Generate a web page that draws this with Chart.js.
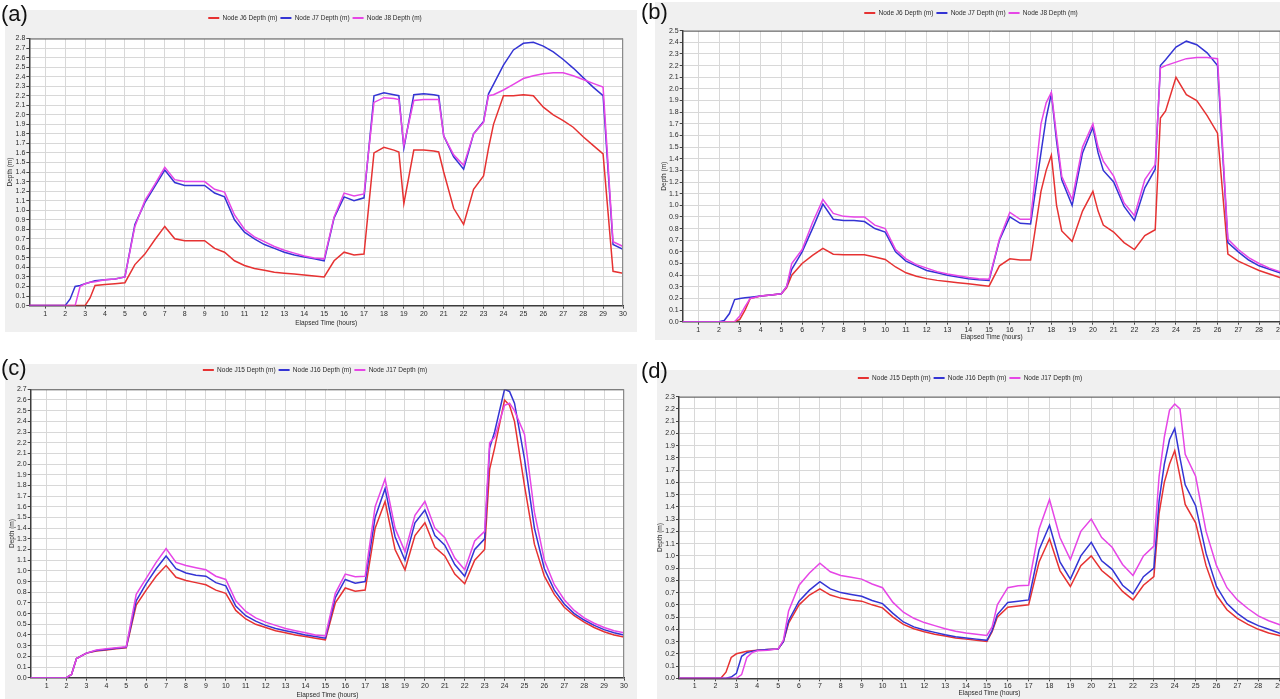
<!DOCTYPE html>
<html>
<head>
<meta charset="utf-8">
<script src="https://cdn.jsdelivr.net/npm/chart.js@4.4.1/dist/chart.umd.min.js"></script>
<style>
html,body{margin:0;padding:0;background:#ffffff;}
body{width:1280px;height:699px;position:relative;overflow:hidden;font-family:"Liberation Sans",Arial,sans-serif;}
.panel{position:absolute;background:#f0f0f0;}
canvas{position:absolute;display:block;}
.tag{position:absolute;font-size:22px;line-height:1;color:#111;font-family:"Liberation Sans",Arial,sans-serif;}
</style>
</head>
<body>
<div class="panel" style="left:5px;top:10px;width:632px;height:322px"></div>
<div class="panel" style="left:655px;top:2px;width:665px;height:338px"></div>
<div class="panel" style="left:5px;top:364px;width:632px;height:335px"></div>
<div class="panel" style="left:657px;top:370px;width:663px;height:329px"></div>
<canvas id="ca" style="left:0px;top:8px"></canvas>
<canvas id="cb" style="left:648px;top:0px"></canvas>
<canvas id="cc" style="left:0px;top:360px"></canvas>
<canvas id="cd" style="left:648px;top:366px"></canvas>
<div class="tag" style="left:1px;top:3px">(a)</div>
<div class="tag" style="left:641px;top:1px">(b)</div>
<div class="tag" style="left:1px;top:357px">(c)</div>
<div class="tag" style="left:641px;top:360px">(d)</div>
<script>
// ---------- data ----------
const xHours = [1,2,3,4,5,6,7,8,9,10,11,12,13,14,15,16,17,18,19,20,21,22,23,24,25,26,27,28,29,30];
const namesAB = ['Node J6 Depth (m)', 'Node J7 Depth (m)', 'Node J8 Depth (m)'];
const namesCD = ['Node J15 Depth (m)', 'Node J16 Depth (m)', 'Node J17 Depth (m)'];
const yTops = [2.8, 2.5, 2.7, 2.3];

// panel (a)
const hoursA = [0,2,2.25,2.5,2.75,3,3.25,3.5,4,4.5,5,5.5,6,6.5,7,7.5,8,8.5,9,9.5,10,10.5,11,11.5,12,12.5,13,13.5,14,14.5,15,15.5,16,16.5,17,17.5,18,18.5,18.75,19,19.5,20,20.5,20.75,21,21.5,22,22.5,23,23.25,23.5,24,24.5,25,25.5,26,26.5,27,27.5,28,28.5,29,29.5,30];
const j6A = [0,0,0,0,0,0,0.08,0.21, 0.22,0.23,0.24,0.43,0.54,0.69,0.83,0.70,0.68,0.68,0.68,0.60,0.56,0.47,0.42,0.39,0.37,0.35,0.34,0.33,0.32,0.31,0.30,0.47,0.56,0.53,0.54, 1.60,1.66,1.63,1.61,1.07,1.63,1.63,1.62,1.61,1.40,1.02,0.85,1.22,1.36,1.65,1.90, 2.20,2.20,2.21,2.20,2.08,2.00,1.94,1.87,1.77,1.68,1.59,0.36,0.34];
const j7A = [0,0,0.07,0.20,0.21,0.23,0.245,0.26, 0.27,0.28,0.30,0.85,1.08,1.25,1.42,1.29,1.26,1.26,1.26,1.18,1.14,0.90,0.77,0.70,0.64,0.60,0.56,0.53,0.51,0.49,0.47,0.92,1.14,1.10,1.13, 2.20,2.23,2.21,2.20,1.65,2.21,2.22,2.21,2.20,1.78,1.56,1.43,1.80,1.93,2.22,2.32, 2.52,2.68,2.75,2.76,2.72,2.66,2.58,2.49,2.39,2.29,2.20,0.64,0.59];
const j8A = [0,0,0,0,0.20,0.23,0.245,0.25, 0.27,0.28,0.30,0.83,1.10,1.27,1.45,1.32,1.30,1.30,1.30,1.22,1.19,0.95,0.80,0.72,0.67,0.62,0.58,0.55,0.52,0.50,0.49,0.93,1.18,1.15,1.17, 2.13,2.18,2.17,2.16,1.68,2.15,2.16,2.16,2.16,1.78,1.58,1.47,1.80,1.92,2.20,2.21, 2.26,2.32,2.38,2.41,2.43,2.44,2.44,2.41,2.37,2.33,2.29,0.67,0.62];

// panel (b)
const hoursB = [0,2,2.25,2.5,2.75,3,3.25,3.5,4,4.5,5,5.25,5.5,6,6.5,7,7.5,8,8.5,9,9.5,10,10.5,11,11.5,12,12.5,13,13.5,14,14.5,15,15.5,16,16.5,17,17.5,17.75,18,18.25,18.5,19,19.5,20,20.25,20.5,21,21.5,22,22.5,23,23.25,23.5,24,24.5,25,25.5,26,26.5,27,27.5,28,28.5,29,29.5,30];
const j6B = [0,0,0,0,0,0.02,0.10,0.20, 0.22,0.23,0.24,0.29,0.40, 0.50,0.57,0.63,0.58,0.575,0.575,0.575,0.555,0.535,0.47,0.42,0.39,0.37,0.355,0.345,0.335,0.325,0.315,0.305,0.48,0.54,0.53,0.53, 1.12,1.30,1.43,1.00,0.78, 0.69,0.95,1.12,0.95,0.83, 0.77,0.68,0.62,0.74,0.79,1.75,1.81, 2.10,1.95,1.90,1.77,1.62,0.58,0.52,0.48,0.44,0.41,0.38,0.36,0.34];
const j7B = [0,0,0.01,0.07,0.19,0.20,0.205,0.21, 0.22,0.23,0.24,0.30,0.45, 0.60,0.80,1.01,0.88,0.87,0.87,0.86,0.80,0.77,0.60,0.52,0.48,0.44,0.42,0.40,0.385,0.37,0.36,0.355,0.70,0.90,0.845,0.84, 1.45,1.75,1.96,1.55,1.22, 1.00,1.45,1.67,1.45,1.30, 1.20,0.99,0.87,1.15,1.31,2.20,2.25, 2.36,2.41,2.38,2.31,2.20,0.68,0.60,0.53,0.48,0.45,0.42,0.40,0.38];
const j8B = [0,0,0,0,0,0.05,0.13,0.20, 0.22,0.23,0.24,0.30,0.50, 0.62,0.85,1.05,0.93,0.905,0.90,0.90,0.83,0.80,0.62,0.54,0.49,0.46,0.43,0.41,0.395,0.38,0.37,0.365,0.71,0.94,0.88,0.88, 1.70,1.88,1.97,1.60,1.25, 1.05,1.50,1.70,1.50,1.38, 1.25,1.02,0.91,1.22,1.35,2.18,2.20, 2.23,2.26,2.27,2.27,2.26,0.71,0.62,0.55,0.50,0.46,0.43,0.41,0.39];

// panel (c)
const hoursC = [0,2,2.25,2.5,3,3.5,4,4.5,5,5.5,6,6.5,7,7.5,8,8.5,9,9.5,10,10.5,11,11.5,12,12.5,13,13.5,14,14.5,15,15.5,16,16.5,17,17.5,18,18.5,19,19.5,20,20.5,21,21.5,22,22.5,23,23.25,23.5,24,24.25,24.5,25,25.5,26,26.5,27,27.5,28,28.5,29,29.5,30];
const j15C = [0,0,0.03,0.18, 0.23,0.25,0.26,0.27,0.28,0.68,0.82,0.95,1.05,0.94, 0.91,0.89,0.87,0.82,0.79,0.63,0.55,0.50,0.47,0.44, 0.42,0.40,0.385,0.37,0.355,0.70,0.84,0.81,0.82,1.40, 1.65,1.20,1.01,1.33,1.45,1.22,1.14,0.97,0.88,1.10, 1.20, 1.95,2.15, 2.60,2.55,2.40, 1.80,1.25,0.95,0.78,0.66,0.58,0.52,0.47,0.43,0.40,0.38];
const j16C = [0,0,0.03,0.18, 0.23,0.255,0.265,0.275,0.285,0.72,0.88,1.02,1.14,1.02, 0.98,0.96,0.95,0.89,0.86,0.67,0.58,0.53,0.49,0.46, 0.44,0.42,0.40,0.385,0.37,0.75,0.92,0.885,0.90,1.50, 1.77,1.32,1.10,1.45,1.57,1.33,1.24,1.06,0.95,1.20, 1.30, 2.15,2.30, 2.70,2.68,2.57, 2.05,1.40,1.02,0.82,0.69,0.60,0.54,0.49,0.45,0.42,0.40];
const j17C = [0,0,0.03,0.18, 0.23,0.26,0.27,0.28,0.29,0.78,0.93,1.08,1.21,1.08, 1.05,1.03,1.01,0.95,0.92,0.72,0.62,0.56,0.52,0.49, 0.46,0.44,0.42,0.40,0.39,0.79,0.97,0.945,0.95,1.60, 1.86,1.40,1.18,1.52,1.65,1.40,1.31,1.12,1.01,1.28, 1.37, 2.20,2.25, 2.55,2.57,2.50, 2.28,1.55,1.10,0.87,0.73,0.63,0.56,0.51,0.47,0.44,0.42];

// panel (d)
const hoursD = [0,2,2.25,2.5,2.75,3,3.25,3.5,3.75,4,4.5,5,5.25,5.5,6,6.5,7,7.5,8,8.5,9,9.5,10,10.5,11,11.5,12,12.5,13,13.5,14,14.5,15,15.25,15.5,16,16.5,17,17.5,18,18.5,19,19.5,20,20.5,21,21.5,22,22.5,23,23.25,23.5,23.75,24,24.25,24.5,25,25.5,26,26.5,27,27.5,28,28.5,29,29.5,30];
const j15D = [0,0,0,0.05,0.17,0.20,0.21,0.22,0.225,0.23,0.235,0.24,0.30,0.45, 0.60,0.68,0.73,0.68,0.655,0.64,0.63,0.60,0.575,0.50,0.44,0.405,0.38,0.36,0.345,0.33,0.32,0.31,0.30, 0.38, 0.50,0.58,0.59,0.60,0.95,1.14,0.88,0.75,0.92,1.00,0.88,0.81,0.71,0.64,0.76,0.83, 1.35,1.60,1.75, 1.86,1.65,1.42, 1.27,0.92,0.68,0.56,0.49,0.44,0.40,0.37,0.35,0.33,0.32];
const j16D = [0,0,0,0,0.01,0.04,0.18,0.21,0.22,0.23,0.235,0.24,0.30,0.47, 0.63,0.72,0.79,0.73,0.70,0.685,0.67,0.635,0.61,0.53,0.46,0.42,0.395,0.375,0.355,0.34,0.33,0.32,0.31, 0.39, 0.52,0.62,0.63,0.64,1.05,1.25,0.95,0.81,1.00,1.11,0.96,0.89,0.76,0.69,0.83,0.90, 1.45,1.75,1.95, 2.04,1.80,1.58, 1.41,1.02,0.75,0.61,0.53,0.47,0.43,0.40,0.37,0.35,0.34];
const j17D = [0,0,0,0,0,0,0.03,0.17,0.21,0.225,0.23,0.24,0.31,0.55, 0.76,0.86,0.94,0.87,0.84,0.825,0.81,0.77,0.74,0.62,0.54,0.49,0.455,0.43,0.405,0.385,0.37,0.36,0.35, 0.42, 0.60,0.74,0.755,0.76,1.22,1.46,1.15,0.97,1.20,1.30,1.15,1.07,0.93,0.84,1.00,1.08, 1.65,1.97,2.19, 2.24,2.20,1.83, 1.65,1.20,0.92,0.74,0.64,0.57,0.51,0.47,0.44,0.41,0.40];

// ---------- style / layout ----------
const lineColors = ['#e63232', '#3434d4', '#e646e6'];
const FONT = '"Liberation Sans", Arial, Helvetica, sans-serif';
const TXT = '#2a2a2a';
const LEG_FS = 6.5, LEG_PAD = 3;

// canvas rectangles (page px) and target plot boxes (page px)
const panels = [
  {id:'ca', cx:0, cy:8, w:640, h:326, hours:hoursA, series:[j6A,j7A,j8A], names:namesAB, xMin:0.2, yMax:yTops[0],
   box:{left:29.3, right:623, top:38.5, bottom:305.6}, legendY:18, legendX:315, xTitlePad:0},
  {id:'cb', cx:648, cy:0, w:672, h:345, hours:hoursB, series:[j6B,j7B,j8B], names:namesAB, xMin:0.25, yMax:yTops[1],
   box:{left:682.7, right:1300.6, top:30.7, bottom:321.7}, legendY:13, legendX:971, xTitlePad:-2},
  {id:'cc', cx:0, cy:360, w:640, h:339, hours:hoursC, series:[j15C,j16C,j17C], names:namesCD, xMin:0.2, yMax:yTops[2],
   box:{left:30.7, right:624, top:389.3, bottom:677.7}, legendY:370, legendX:315, xTitlePad:0},
  {id:'cd', cx:648, cy:366, w:672, h:333, hours:hoursD, series:[j15D,j16D,j17D], names:namesCD, xMin:0.25, yMax:yTops[3],
   box:{left:679, right:1300, top:396.7, bottom:678.3}, legendY:378, legendX:970, xTitlePad:-2}
];

const frame = {
  id: 'frame',
  afterLayout(c) {
    const L = c.legend;
    if (!L || c.$lcx == null) return;
    const d = c.$lcx - (L.left + L.right) / 2;
    L.left += d; L.right += d;
  },
  beforeDraw(c) {
    const a = c.chartArea, x = c.ctx;
    x.save(); x.fillStyle = '#ffffff';
    x.fillRect(a.left, a.top, a.right - a.left, a.bottom - a.top);
    x.restore();
  },
  afterDraw(c) {
    const a = c.chartArea, x = c.ctx;
    x.save(); x.lineWidth = 1;
    x.strokeStyle = '#5a5a5a';
    x.beginPath(); x.moveTo(a.left, a.top + 0.5); x.lineTo(a.right, a.top + 0.5); x.stroke();
    x.strokeStyle = '#8a8a8a';
    x.beginPath(); x.moveTo(a.right - 0.5, a.top); x.lineTo(a.right - 0.5, a.bottom); x.stroke();
    x.restore();
  }
};

function calibrate(chart, T) {
  const p = chart.options.layout.padding;
  for (let i = 0; i < 6; i++) {
    const a = chart.chartArea;
    const dl = T.left - a.left, dr = a.right - T.right, db = a.bottom - T.bottom, dt = T.top - a.top;
    if (Math.abs(dl) + Math.abs(dr) + Math.abs(db) + Math.abs(dt) < 0.05) break;
    p.left += dl; p.right += dr; p.bottom += db; chart.$lh += dt;
    chart.update('none');
  }
}

function build(P) {
  const cv = document.getElementById(P.id);
  cv.width = P.w; cv.height = P.h;
  cv.style.width = P.w + 'px'; cv.style.height = P.h + 'px';
  const box = {left: P.box.left - P.cx, right: P.box.right - P.cx, top: P.box.top - P.cy, bottom: P.box.bottom - P.cy};
  const datasets = P.series.map((vals, i) => ({
    label: P.names[i],
    data: P.hours.map((t, k) => ({x: t, y: vals[k]})),
    borderColor: lineColors[i],
    backgroundColor: lineColors[i],
    borderWidth: 1.5,
    pointRadius: 0,
    tension: 0,
    fill: false,
    order: 2 - i
  }));
  const padTop = (P.legendY - P.cy) - LEG_PAD - LEG_FS / 2;
  const gridCfg = {color: '#d8d8d8', lineWidth: 1, tickLength: 3, tickColor: '#444'};
  const chart = new Chart(cv, {
    type: 'line',
    data: {datasets},
    options: {
      responsive: false,
      animation: false,
      devicePixelRatio: 1,
      events: [],
      layout: {padding: {top: padTop, left: 6, right: 12, bottom: 0}},
      plugins: {
        tooltip: {enabled: false},
        legend: {
          display: true, position: 'top',
          labels: {
            boxWidth: 11, boxHeight: 2, padding: LEG_PAD, color: TXT,
            font: {size: LEG_FS, family: FONT},
            sort: (a, b) => a.datasetIndex - b.datasetIndex,
            generateLabels: (c) => Chart.defaults.plugins.legend.labels.generateLabels(c)
              .map(l => Object.assign(l, {lineWidth: 0}))
          }
        }
      },
      scales: {
        x: {
          type: 'linear', min: P.xMin, max: 30,
          afterBuildTicks: (s) => { s.ticks = xHours.map(v => ({value: v})); },
          ticks: {autoSkip: false, maxRotation: 0, color: TXT, padding: 1,
                  font: {size: 7, family: FONT}, callback: (v) => String(v)},
          grid: gridCfg,
          border: {color: '#3c3c3c', width: 1.5},
          title: {display: true, text: 'Elapsed Time (hours)', color: TXT,
                  font: {size: 6.5, family: FONT}, padding: {top: P.xTitlePad, bottom: 1}}
        },
        y: {
          min: 0, max: P.yMax,
          ticks: {stepSize: 0.1, autoSkip: false, color: TXT, padding: 1,
                  font: {size: 7, family: FONT}, callback: (v) => Number(v).toFixed(1)},
          grid: gridCfg,
          border: {color: '#3c3c3c', width: 1.5},
          title: {display: true, text: 'Depth (m)', color: TXT,
                  font: {size: 6.5, family: FONT}, padding: {top: 0, bottom: 0}}
        }
      }
    },
    plugins: [frame]
  });
  chart.$lcx = P.legendX - P.cx;
  chart.$lh = box.top - padTop;
  const L = chart.legend, fit0 = L.fit;
  L.fit = function () { fit0.call(this); this.height = chart.$lh; };
  chart.update('none');
  calibrate(chart, box);
  return chart;
}

panels.forEach(build);
</script>
</body>
</html>
